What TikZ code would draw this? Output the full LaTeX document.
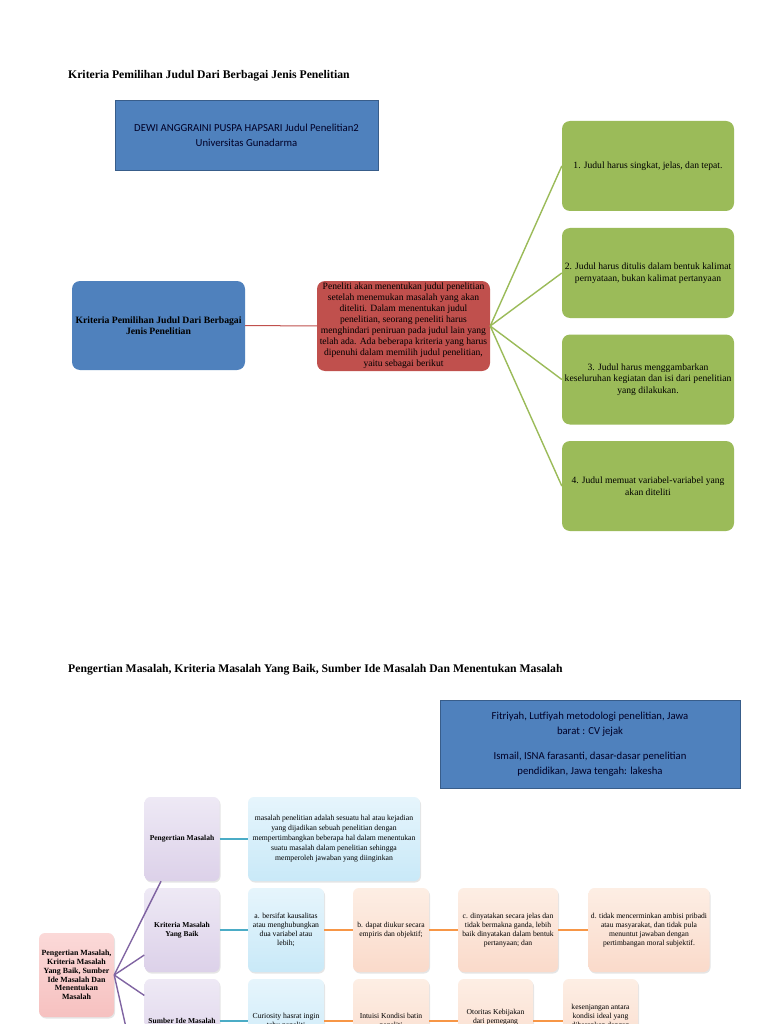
\documentclass[tikz,border=0pt]{standalone}
\usepackage{fontspec}
\setmainfont{Liberation Serif}
\newfontfamily\calibri{Carlito}
\usetikzlibrary{shadows}

\definecolor{kotakbiru}{HTML}{4F81BD}
\definecolor{garisbiru}{HTML}{385D8A}
\definecolor{kotakmerah}{HTML}{C0504D}
\definecolor{kotakhijau}{HTML}{9BBB59}
\definecolor{garisungu}{HTML}{8064A2}
\definecolor{garistosca}{HTML}{4BACC6}
\definecolor{garisoranye}{HTML}{F79646}
\definecolor{birumudaatas}{HTML}{E6F5FC}
\definecolor{birumudabawah}{HTML}{C9E9F8}
\definecolor{jinggaatas}{HTML}{FDEEE4}
\definecolor{jinggabawah}{HTML}{FADACA}
\definecolor{unguatas}{HTML}{EEE9F5}
\definecolor{ungubawah}{HTML}{DCD1E9}
\definecolor{merahatas}{HTML}{FBD9D8}
\definecolor{merahbawah}{HTML}{F6C1C0}

\tikzset{
  judulbagian/.style={anchor=west,font=\fontsize{11.7}{13}\selectfont\bfseries},
  kotaksumber/.style={rectangle,fill=kotakbiru,draw=garisbiru,line width=0.8pt,
    font=\calibri\fontsize{10.7}{15}\selectfont,text=black!85!blue},
  bulatbiru/.style={rectangle,rounded corners=8pt,fill=kotakbiru,
    minimum width=173pt,minimum height=89pt,font=\fontsize{9.7}{11}\selectfont\bfseries},
  bulatmerah/.style={rectangle,rounded corners=8pt,fill=kotakmerah,
    minimum width=173pt,minimum height=90pt,font=\fontsize{9.6}{11}\selectfont},
  bulathijau/.style={rectangle,rounded corners=8pt,fill=kotakhijau,
    minimum width=172pt,minimum height=90pt,font=\fontsize{9.6}{11.5}\selectfont},
  lembut/.style={rectangle,rounded corners=6pt,minimum height=84pt,
    drop shadow={shadow xshift=1pt,shadow yshift=-1.5pt,opacity=0.2}},
  akar/.style={lembut,minimum width=75pt,top color=merahatas,bottom color=merahbawah,
    font=\fontsize{7.9}{8.8}\selectfont\bfseries},
  cabangungu/.style={lembut,minimum width=75pt,top color=unguatas,bottom color=ungubawah,
    font=\fontsize{7.5}{9}\selectfont\bfseries},
  cabangbiru/.style={lembut,top color=birumudaatas,bottom color=birumudabawah,
    font=\fontsize{7.7}{8.8}\selectfont},
  cabangjingga/.style={lembut,top color=jinggaatas,bottom color=jinggabawah,
    font=\fontsize{7.6}{8.8}\selectfont},
  every node/.append style={inner sep=0pt,align=center}
}

\begin{document}
\begin{tikzpicture}[x=1pt,y=-1pt]
\useasboundingbox[fill=white] (0,0) rectangle (768,1024);
\clip (0,0) rectangle (768,1024);

% bagian pertama
\node[judulbagian] (judul1) at (68,76) {Kriteria Pemilihan Judul Dari Berbagai Jenis Penelitian};
\node[kotaksumber,minimum width=263pt,minimum height=70pt] (sumber1) at (246.5,135)
  {DEWI ANGGRAINI PUSPA HAPSARI Judul Penelitian2\\Universitas Gunadarma};

\node[bulatbiru] (kriteria) at (158.5,325.5) {Kriteria Pemilihan Judul Dari Berbagai\\Jenis Penelitian};
\node[bulatmerah] (uraian) at (403.5,326) {Peneliti akan menentukan judul penelitian\\
  setelah menemukan masalah yang akan\\diteliti. Dalam menentukan judul\\
  penelitian, seorang peneliti harus\\menghindari peniruan pada judul lain yang\\
  telah ada. Ada beberapa kriteria yang harus\\dipenuhi dalam memilih judul penelitian,\\
  yaitu sebagai berikut};
\node[bulathijau] (syarat1) at (648,166) {1. Judul harus singkat, jelas, dan tepat.};
\node[bulathijau] (syarat2) at (648,273) {2. Judul harus ditulis dalam bentuk kalimat\\pernyataan, bukan kalimat pertanyaan};
\node[bulathijau] (syarat3) at (648,379.5) {3. Judul harus menggambarkan\\keseluruhan kegiatan dan isi dari penelitian\\yang dilakukan.};
\node[bulathijau] (syarat4) at (648,486) {4. Judul memuat variabel-variabel yang\\akan diteliti};

\draw[kotakmerah,line width=1pt] (kriteria) -- (uraian);
\foreach \i in {1,...,4}
  \draw[kotakhijau,line width=1.4pt] (uraian.east) -- (syarat\i.west);

% bagian kedua
\node[judulbagian] (judul2) at (68,670) {Pengertian Masalah, Kriteria Masalah Yang Baik, Sumber Ide Masalah Dan Menentukan Masalah};
\node[kotaksumber,minimum width=300pt,minimum height=88pt] (sumber2) at (590,744)
  {Fitriyah, Lutfiyah metodologi penelitian, Jawa\\barat : CV jejak\\[10pt]
   Ismail, ISNA farasanti, dasar-dasar penelitian\\pendidikan, Jawa tengah: lakesha};

\node[akar] (masalah) at (76.5,975) {Pengertian Masalah,\\Kriteria Masalah\\Yang Baik, Sumber\\Ide Masalah Dan\\Menentukan\\Masalah};
\node[cabangungu] (pengertian) at (182,839) {Pengertian Masalah};
\node[cabangungu] (baik) at (182,930) {Kriteria Masalah\\Yang Baik};
\node[cabangungu] (sumber) at (182,1021) {Sumber Ide Masalah};
\coordinate (menentukan) at (145,1112);

\node[cabangbiru,minimum width=172pt,font=\fontsize{7.7}{10}\selectfont] (definisi) at (334,839)
  {masalah penelitian adalah sesuatu hal atau kejadian\\
  yang dijadikan sebuah penelitian dengan\\mempertimbangkan beberapa hal dalam menentukan\\
  suatu masalah dalam penelitian sehingga\\memperoleh jawaban yang diinginkan};
\node[cabangbiru,minimum width=76pt] (kritA) at (286,930) {a. bersifat kausalitas\\atau menghubungkan\\dua variabel atau\\lebih;};
\node[cabangjingga,minimum width=76pt] (kritB) at (391,930) {b. dapat diukur secara\\empiris dan objektif;};
\node[cabangjingga,minimum width=100pt] (kritC) at (508,930) {c. dinyatakan secara jelas dan\\tidak bermakna ganda, lebih\\baik dinyatakan dalam bentuk\\pertanyaan; dan};
\node[cabangjingga,minimum width=121pt] (kritD) at (649,930) {d. tidak mencerminkan ambisi pribadi\\atau masyarakat, dan tidak pula\\menuntut jawaban dengan\\pertimbangan moral subjektif.};

\node[cabangbiru,minimum width=76pt] (ideA) at (286,1021) {Curiosity hasrat ingin\\tahu peneliti};
\node[cabangjingga,minimum width=76pt] (ideB) at (391,1021) {Intuisi Kondisi batin\\peneliti};
\node[cabangjingga,minimum width=75pt] (ideC) at (495.5,1021) {Otoritas Kebijakan\\dari pemegang\\kekuasaan};
\node[cabangjingga,minimum width=75pt] (ideD) at (600.5,1021) {kesenjangan antara\\kondisi ideal yang\\diharapkan dengan\\kenyataan};

\foreach \t in {pengertian,baik,sumber,menentukan}
  \draw[garisungu,line width=1.4pt] (masalah.east) -- (\t);
\draw[garistosca,line width=1.4pt] (pengertian) -- (definisi);
\draw[garistosca,line width=1.4pt] (baik) -- (kritA);
\draw[garistosca,line width=1.4pt] (sumber) -- (ideA);
\draw[garisoranye,line width=1.4pt] (kritA) -- (kritB) (kritB) -- (kritC) (kritC) -- (kritD);
\draw[garisoranye,line width=1.4pt] (ideA) -- (ideB) (ideB) -- (ideC) (ideC) -- (ideD);
\end{tikzpicture}
\end{document}
